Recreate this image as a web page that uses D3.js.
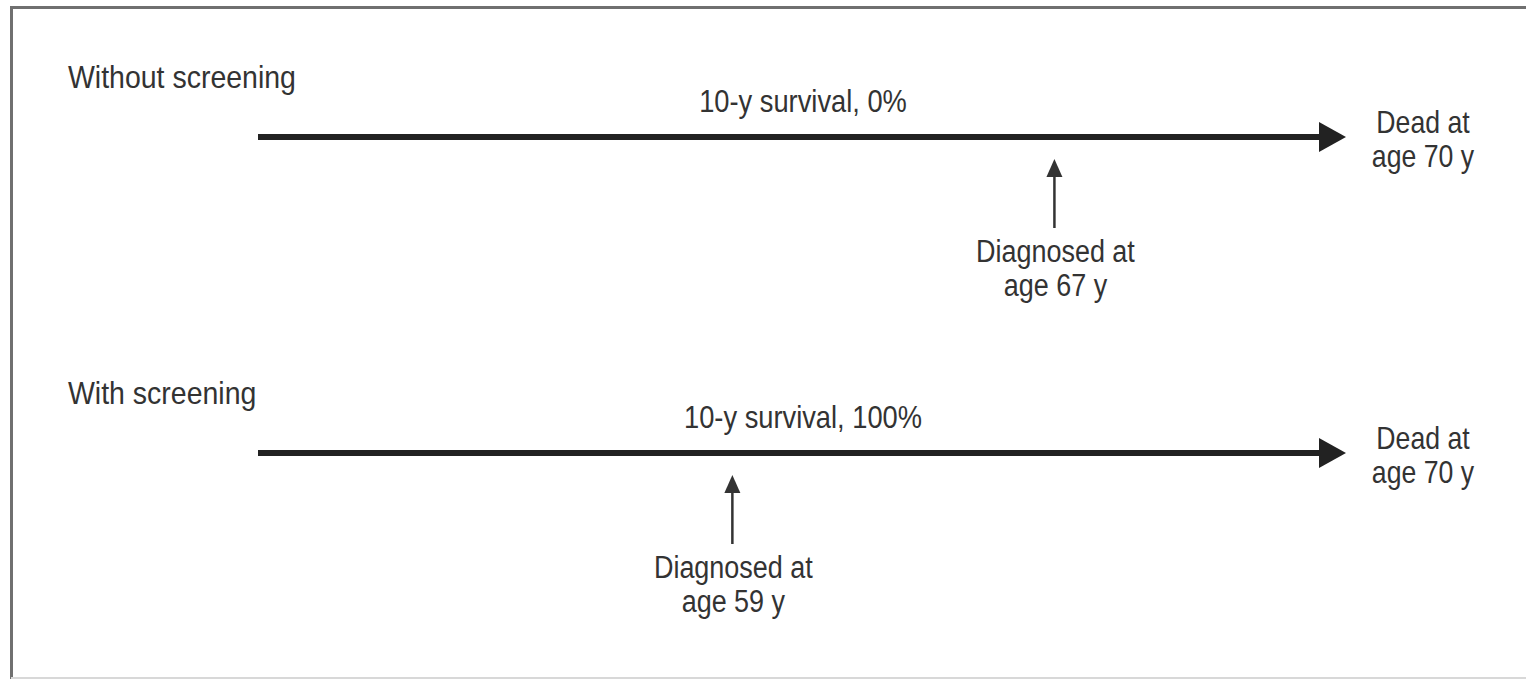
<!DOCTYPE html>
<html>
<head>
<meta charset="utf-8">
<script src="https://cdn.jsdelivr.net/npm/d3@7"></script>
<style>
  body { margin: 0; background: #fff; }
  svg text { font-family: "Liberation Sans", Arial, sans-serif; fill: #333; }
</style>
</head>
<body>
<svg id="chart"></svg>
<script>
// scenario data
var scenarios = ["Without screening", "With screening"]
var survivalLabels = ["10-y survival, 0%", "10-y survival, 100%"]
var diagnosisAge = [67, 59]
// where the diagnosis falls along the schematic timeline (0 = start, 1 = arrow tip)
var diagnosisPos = [0.732, 0.436]
var deathAge = [70, 70]

var width = 1526, height = 679

var svg = d3.select('#chart').attr('width', width).attr('height', height)

// frame
svg.append('line').attr('x1', 11).attr('y1', 7.5).attr('x2', width).attr('y2', 7.5)
  .attr('stroke', '#707070').attr('stroke-width', 3)
svg.append('line').attr('x1', 11.5).attr('y1', 6).attr('x2', 11.5).attr('y2', height)
  .attr('stroke', '#707070').attr('stroke-width', 3)
svg.append('line').attr('x1', 11).attr('y1', 678).attr('x2', width).attr('y2', 678)
  .attr('stroke', '#d8d8d8').attr('stroke-width', 2)

// schematic timeline position scale
var x = d3.scaleLinear().domain([0, 1]).range([258, 1346])
// vertical placement of each panel
var y = d3.scalePoint().domain(scenarios).range([137, 453])

var lineGap = 34

// narrow-looking text: regular font squeezed horizontally
function label(sel, lines, lx, ly, anchor, fs, squeeze) {
  var t = sel.append('text')
    .attr('transform', function (d, i) {
      return 'translate(' + lx(d, i) + ',' + ly + ') scale(' + squeeze + ',1)'
    })
    .attr('text-anchor', anchor)
    .attr('font-size', fs)
  lines.forEach(function (fn, k) {
    t.append('tspan').attr('x', 0).attr('y', k * lineGap).text(fn)
  })
  return t
}

var panel = svg.selectAll('g.panel')
  .data(scenarios)
  .enter().append('g')
  .attr('class', 'panel')
  .attr('transform', function (d) { return 'translate(0,' + y(d) + ')' })

label(panel, [function (d) { return d }], function () { return 68 }, -49, 'start', 32, 0.89)

label(panel, [function (d, i) { return survivalLabels[i] }],
  function () { return (x(0) + x(1)) / 2 + 1 }, -25, 'middle', 31, 0.88)

// timeline shaft + head
var headLen = 27, headHalf = 15
panel.append('line')
  .attr('x1', x(0)).attr('y1', 0)
  .attr('x2', x(1) - headLen + 2).attr('y2', 0)
  .attr('stroke', '#222').attr('stroke-width', 6)
panel.append('path')
  .attr('d', 'M' + x(1) + ',0L' + (x(1) - headLen) + ',' + (-headHalf) + 'L' + (x(1) - headLen) + ',' + headHalf + 'Z')
  .attr('fill', '#222')

// death label
label(panel, [function () { return 'Dead at' }, function (d, i) { return 'age ' + deathAge[i] + ' y' }],
  function () { return 1423 }, -4, 'middle', 31, 0.86)

// diagnosis arrow
panel.append('line')
  .attr('x1', function (d, i) { return x(diagnosisPos[i]) }).attr('y1', 91)
  .attr('x2', function (d, i) { return x(diagnosisPos[i]) }).attr('y2', 36)
  .attr('stroke', '#333').attr('stroke-width', 2.5)
panel.append('path')
  .attr('d', function (d, i) {
    var cx = x(diagnosisPos[i])
    return 'M' + cx + ',22L' + (cx - 8) + ',40L' + (cx + 8) + ',40Z'
  })
  .attr('fill', '#333')

label(panel, [function () { return 'Diagnosed at' }, function (d, i) { return 'age ' + diagnosisAge[i] + ' y' }],
  function (d, i) { return x(diagnosisPos[i]) + 1 }, 125, 'middle', 31, 0.87)
</script>
</body>
</html>
